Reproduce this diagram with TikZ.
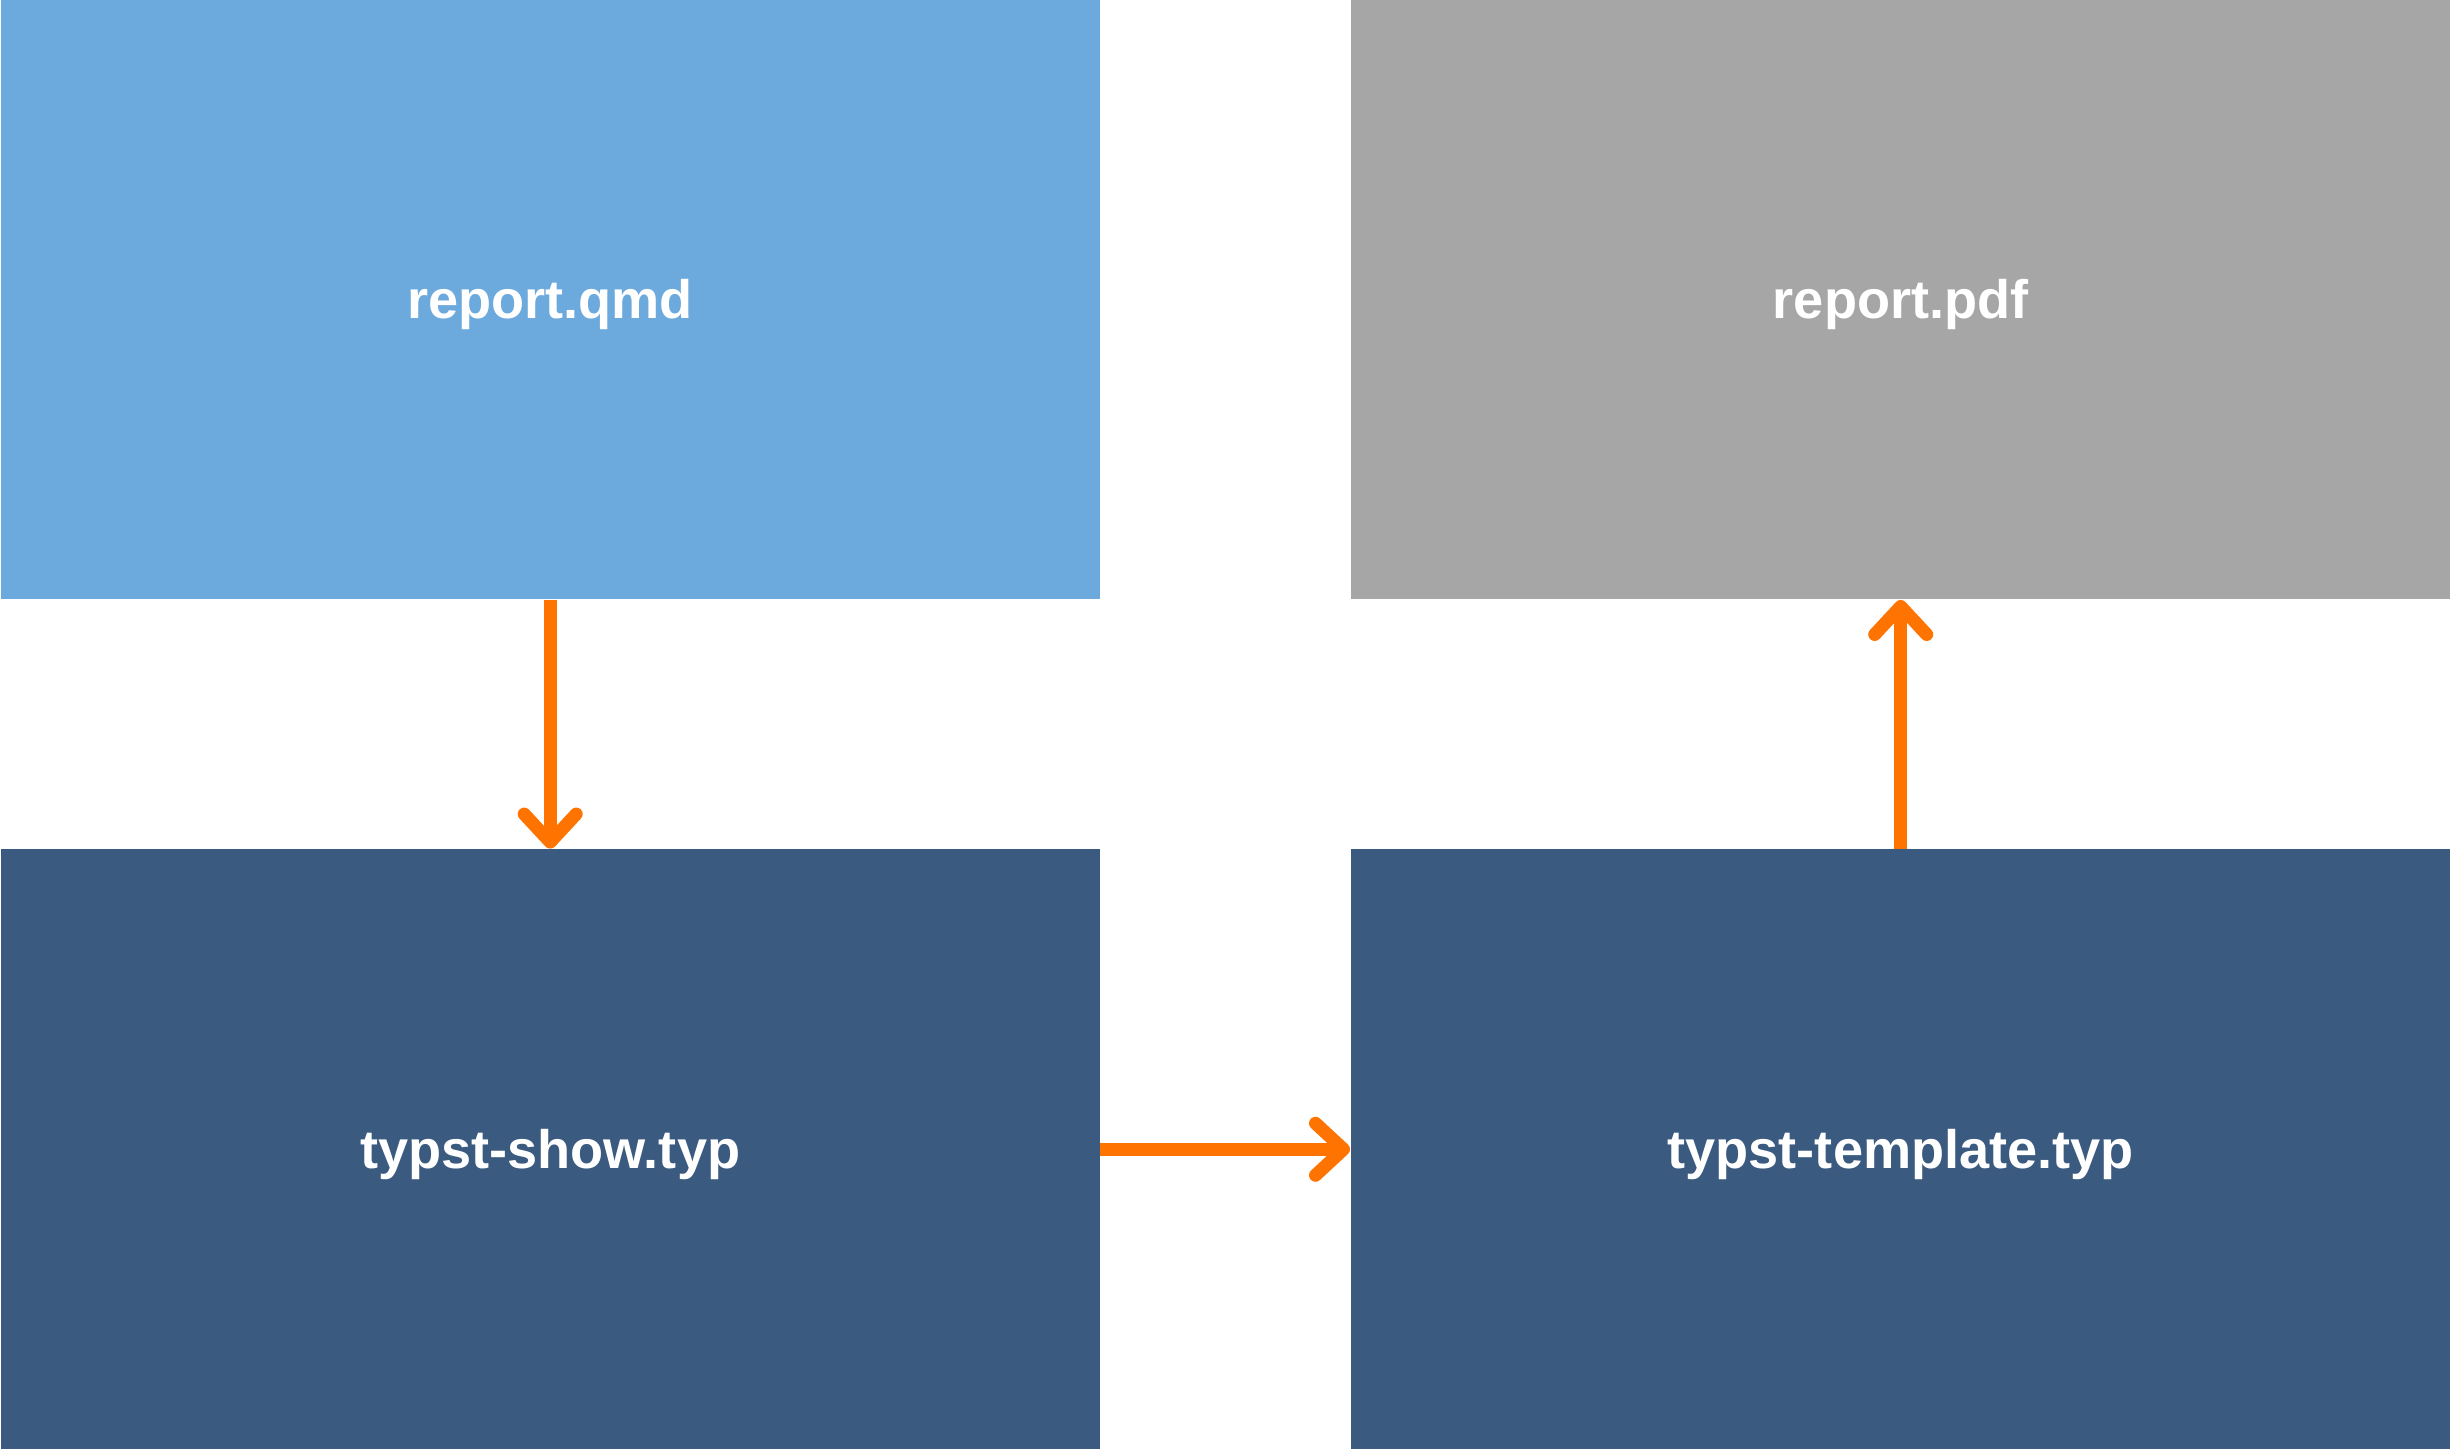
\documentclass[tikz,border=0pt]{standalone}
\usepackage{fontspec}
\setmainfont{Liberation Sans}
\usetikzlibrary{arrows.meta}
\definecolor{lightblue}{HTML}{6CA9DC}
\definecolor{grayfill}{HTML}{A6A6A6}
\definecolor{darkblue}{HTML}{3B5A7F}
\definecolor{arroworange}{HTML}{FF7300}
\tikzset{
  box/.style={rectangle, inner sep=0pt, minimum width=10.99cm, minimum height=6cm,
    text depth=0pt, text=white, font=\fontsize{15.4pt}{18pt}\selectfont\bfseries},
  flow/.style={draw=arroworange, line width=0.13cm,
    -{Straight Barb[round, length=0.28cm, width=0.52cm]}}
}
\begin{document}
\begin{tikzpicture}
\useasboundingbox (0,0) rectangle (24.5,14.5);
\fill[white] (0,0) rectangle (24.5,14.5);
\node[box, fill=lightblue, anchor=south west] (qmd) at (0,8.5) {report.qmd};
\node[box, fill=grayfill, minimum width=11cm, anchor=south west] (pdf) at (13.5,8.5) {report.pdf};
\node[box, fill=darkblue, anchor=south west] (show) at (0,0) {typst-show.typ};
\node[box, fill=darkblue, minimum width=11cm, anchor=south west] (tmpl) at (13.5,0) {typst-template.typ};
\draw[flow] (qmd.south) -- (show.north);
\draw[flow] (show.east) -- (tmpl.west);
\draw[flow] (tmpl.north) -- (pdf.south);
\end{tikzpicture}
\end{document}
